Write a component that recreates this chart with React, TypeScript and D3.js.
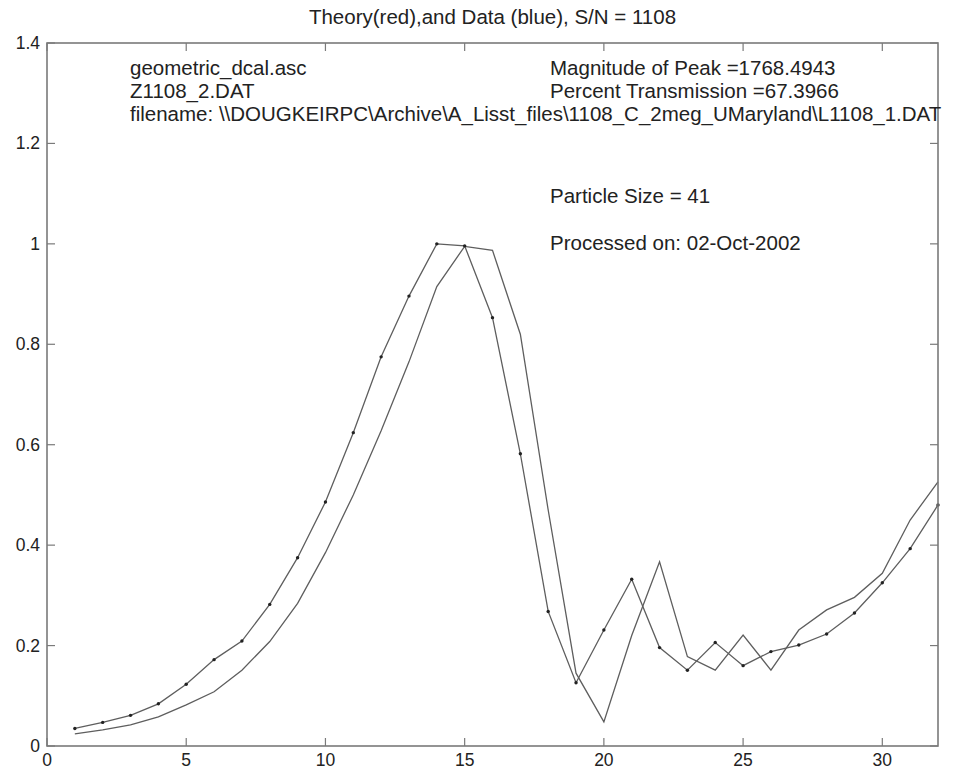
import React from "react";
import * as d3 from "d3";

const xs = d3.range(1, 33);
const dataSeries = [0.035, 0.047, 0.061, 0.084, 0.123, 0.172, 0.209, 0.282, 0.375, 0.486, 0.624, 0.775, 0.896, 1.0, 0.996, 0.853, 0.582, 0.268, 0.126, 0.231, 0.332, 0.196, 0.151, 0.206, 0.16, 0.188, 0.201, 0.223, 0.265, 0.325, 0.393, 0.48];
const theorySeries = [0.024, 0.032, 0.042, 0.058, 0.082, 0.108, 0.151, 0.208, 0.284, 0.385, 0.5, 0.628, 0.765, 0.915, 0.995, 0.987, 0.82, 0.47, 0.145, 0.048, 0.22, 0.367, 0.178, 0.151, 0.221, 0.151, 0.231, 0.271, 0.296, 0.344, 0.45, 0.526];
const xTicks = [0, 5, 10, 15, 20, 25, 30];
const yTicks = [0, 0.2, 0.4, 0.6, 0.8, 1, 1.2, 1.4];

const title = "Theory(red),and Data (blue), S/N = 1108";
const leftNotes = ["geometric_dcal.asc", "Z1108_2.DAT", "filename: \\\\DOUGKEIRPC\\Archive\\A_Lisst_files\\1108_C_2meg_UMaryland\\L1108_1.DAT"];
const rightNotes = ["Magnitude of Peak =1768.4943", "Percent Transmission =67.3966"];
const rightNotes2 = ["Particle Size = 41", "Processed on: 02-Oct-2002"];

export default function App() {
  const W = 953, H = 774;
  const L = 47, R = 938, T = 43, B = 746;
  const x = d3.scaleLinear().domain([0, 32]).range([L, R]);
  const y = d3.scaleLinear().domain([0, 1.4]).range([B, T]);
  const line = d3.line<number>().x((_, i) => x(xs[i])).y((d) => y(d));
  const font = "'Liberation Sans', Arial, Helvetica, sans-serif";
  const axisColor = "#7a7a7a";
  const lineColor = "#5e5e5e";
  const tickLen = 8;
  const noteSize = 20.5;
  return (
    <svg width={W} height={H} style={{ position: "absolute", left: 0, top: 0, background: "#fff" }} fontFamily={font}>
      <rect x={0} y={0} width={W} height={H} fill="#fff" />
      <text x={(L + R) / 2} y={24} textAnchor="middle" fontSize={20.5} fill="#222">{title}</text>
      {/* plot lines */}
      <path d={line(theorySeries) || ""} fill="none" stroke={lineColor} strokeWidth={1.3} />
      <path d={line(dataSeries) || ""} fill="none" stroke={lineColor} strokeWidth={1.3} />
      {dataSeries.map((v, i) => (
        <circle key={i} cx={x(xs[i])} cy={y(v)} r={1.7} fill="#222" />
      ))}
      {/* box */}
      <rect x={L} y={T} width={R - L} height={B - T} fill="none" stroke={axisColor} strokeWidth={1.6} />
      {xTicks.map((t) => (
        <g key={"x" + t}>
          <line x1={x(t)} x2={x(t)} y1={B} y2={B - tickLen} stroke={axisColor} strokeWidth={1.2} />
          <line x1={x(t)} x2={x(t)} y1={T} y2={T + tickLen} stroke={axisColor} strokeWidth={1.2} />
          <text x={x(t)} y={B + 20} textAnchor="middle" fontSize={17.5} fill="#222">{t}</text>
        </g>
      ))}
      {yTicks.map((t) => (
        <g key={"y" + t}>
          <line x1={L} x2={L + tickLen} y1={y(t)} y2={y(t)} stroke={axisColor} strokeWidth={1.2} />
          <line x1={R} x2={R - tickLen} y1={y(t)} y2={y(t)} stroke={axisColor} strokeWidth={1.2} />
          <text x={L - 7} y={y(t) + 6} textAnchor="end" fontSize={17.5} fill="#222">{String(+t.toFixed(1))}</text>
        </g>
      ))}
      {leftNotes.map((s, i) => (
        <text key={"l" + i} x={130} y={75 + i * 23} fontSize={noteSize} fill="#222">{s}</text>
      ))}
      {rightNotes.map((s, i) => (
        <text key={"r" + i} x={550} y={75 + i * 23} fontSize={noteSize} fill="#222">{s}</text>
      ))}
      {rightNotes2.map((s, i) => (
        <text key={"r2" + i} x={550} y={203 + i * 47} fontSize={noteSize} fill="#222">{s}</text>
      ))}
    </svg>
  );
}
